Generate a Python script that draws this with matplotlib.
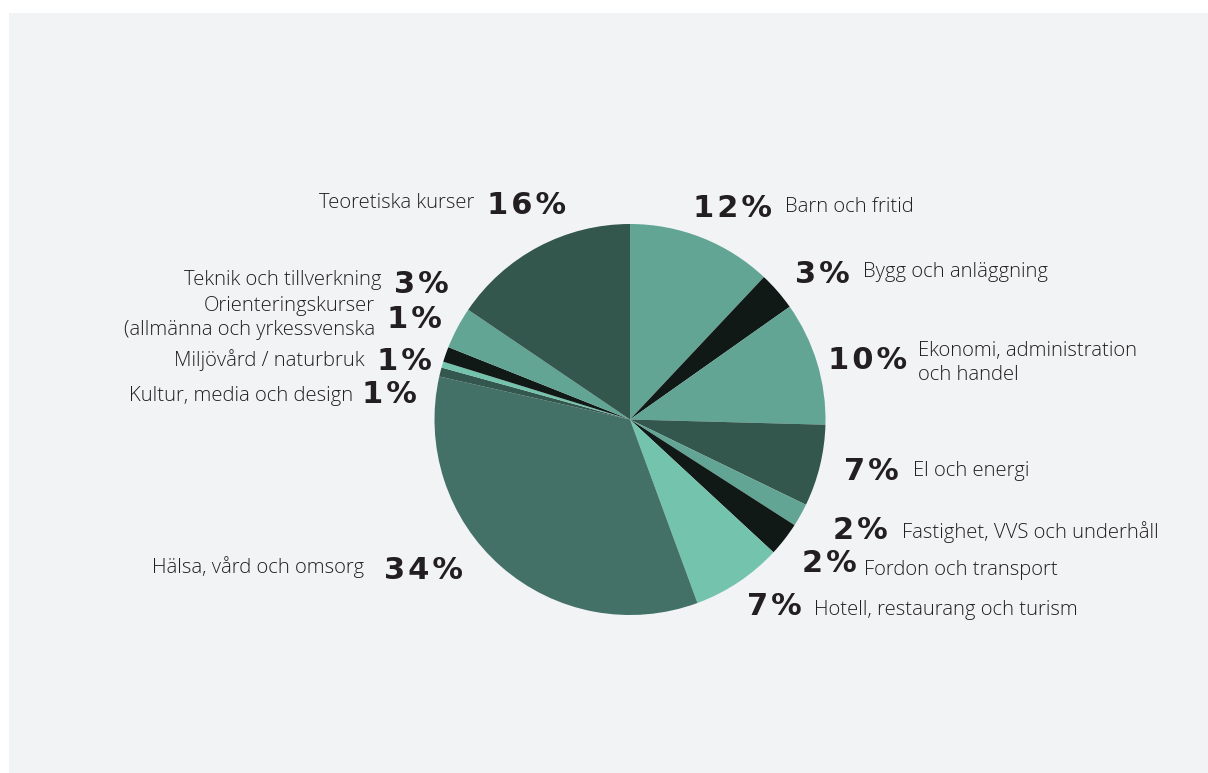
import matplotlib
matplotlib.use("Agg")
from matplotlib import pyplot as plt
from matplotlib.patches import Rectangle

# slice shares, clockwise from 12 o'clock
categories = ["Barn och fritid", "Bygg och anläggning", "Ekonomi, administration\noch handel",
              "El och energi", "Fastighet, VVS och underhåll", "Fordon och transport",
              "Hotell, restaurang och turism", "Hälsa, vård och omsorg", "Kultur, media och design",
              "Miljövård / naturbruk", "Orienteringskurser\n(allmänna och yrkessvenska",
              "Teknik och tillverkning", "Teoretiska kurser"]
shares = [12.0, 3.2, 10.2, 6.75, 1.9, 2.8, 7.5, 34.1, 0.75, 0.5, 1.25, 3.45, 15.5]
pct_labels = ["12%", "3%", "10%", "7%", "2%", "2%", "7%", "34%", "1%", "1%", "1%", "3%", "16%"]

mid = "#62a594"
dark = "#33564d"
black = "#111916"
light = "#74c3ad"
halsa = "#437168"
colors = [mid, black, mid, dark, mid, black, light, halsa, dark, light, black, mid, dark]

# label layout in pixels: side, x of the gap between pct and name, name x, baselines
W, H = 1208, 773
layout = [
    ("R", 772, 785, 212, 217),
    ("R", 850, 863, 277, 283),
    ("R", 907, 918, 356, 369),
    ("R", 899, 913, 476, 480),
    ("R", 888, 902, 538, 539),
    ("R", 857, 864, 575, 572),
    ("R", 802, 814, 615, 615),
    ("L", 384, 364, 573, 579),
    ("L", 362, 353, 401, 403),
    ("L", 377, 365, 366, 370),
    ("L", 387, 375, 311, 328),
    ("L", 394, 382, 285, 293),
    ("L", 487, 474, 208, 214),
]

txt = "#231f20"
fig = plt.figure(figsize=(W / 100, H / 100), dpi=100)
fig.patch.set_facecolor("white")
ax = fig.add_axes([0, 0, 1, 1])

ax.add_patch(Rectangle((9, 0), W - 9, H - 13, facecolor="#f2f3f5", edgecolor="none", zorder=0))

ax.pie(shares, colors=colors, startangle=90, counterclock=False,
       center=(630, H - 419.5), radius=195.5, frame=True,
       wedgeprops=dict(linewidth=0))
ax.set_xlim(0, W)
ax.set_ylim(0, H)
ax.set_aspect("equal")
ax.axis("off")

for name, pct, (side, xp, xn, yn, yp) in zip(categories, pct_labels, layout):
    pct = "\u200a".join(pct)  # the reference tracks the numbers a bit wide
    if side == "R":
        ax.text(xp, H - yp, pct, ha="right", va="baseline", fontsize=22,
                fontweight="bold", family="DejaVu Sans", color=txt)
        ha = "left"
    else:
        ax.text(xp, H - yp, pct, ha="left", va="baseline", fontsize=22,
                fontweight="bold", family="DejaVu Sans", color=txt)
        ha = "right"
    for i, line in enumerate(name.split("\n")):
        ax.text(xn, H - yn - 24 * i, line, ha=ha, va="baseline", fontsize=14.6,
                fontweight="light", family="Open Sans", color=txt)

fig.savefig("out.png", dpi=100, facecolor=fig.get_facecolor())
